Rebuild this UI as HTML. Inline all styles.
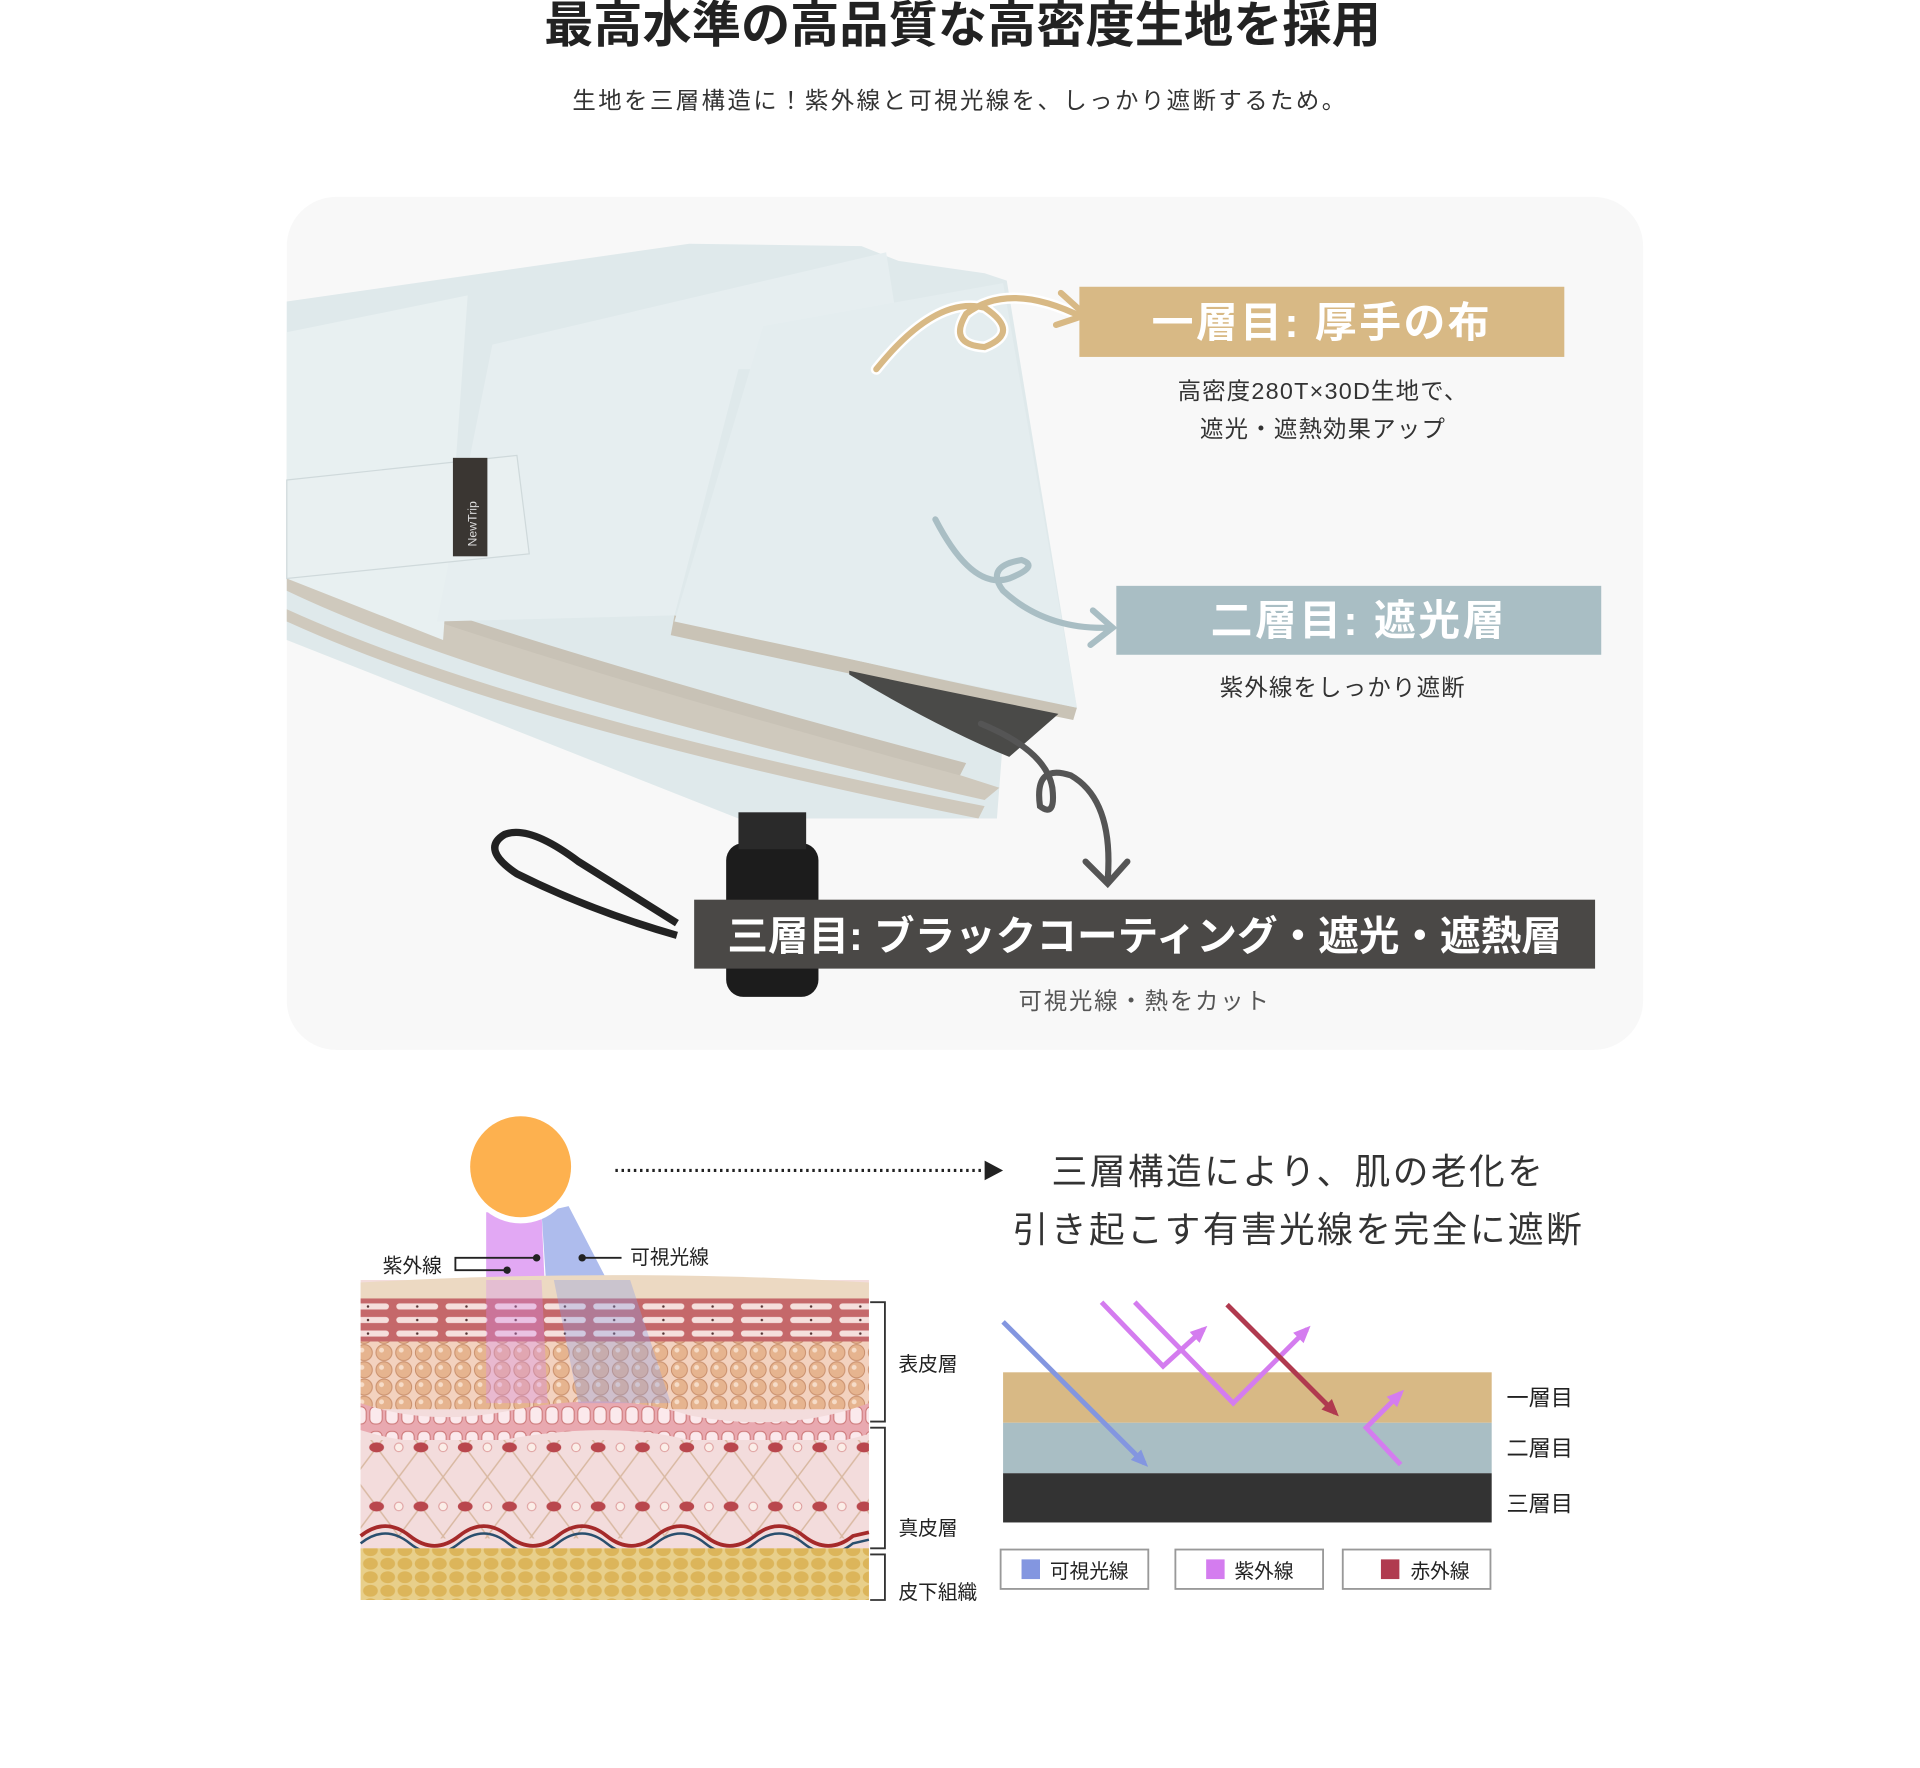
<!DOCTYPE html>
<html><head><meta charset="utf-8"><style>
html,body{margin:0;padding:0;background:#fff;}
svg{display:block;}
text{font-family:"Liberation Sans","Noto Sans CJK JP",sans-serif;}
</style></head><body>
<svg width="1920" height="1768" viewBox="0 0 1560 1436.5" preserveAspectRatio="none" xmlns="http://www.w3.org/2000/svg">
<defs>
<pattern id="beads" width="16" height="14" patternUnits="userSpaceOnUse">
<rect width="16" height="14" fill="#f3d2bf"/>
<circle cx="8" cy="7" r="6.5" fill="#e6b48f" stroke="#c98f6c" stroke-width="0.8"/>
<circle cx="6" cy="5" r="2" fill="#f6dcc8"/>
</pattern>
<pattern id="fat" width="14" height="11" patternUnits="userSpaceOnUse">
<rect width="14" height="11" fill="#e8cf8a"/>
<ellipse cx="7" cy="5.5" rx="6" ry="4.8" fill="#dcb55a"/>
</pattern>
<pattern id="derm" width="36" height="48" patternUnits="userSpaceOnUse">
<rect width="36" height="48" fill="#f3dcdc"/>
<path d="M0 0 L36 48 M36 0 L0 48" stroke="#d9b9a2" stroke-width="1.2"/>
<ellipse cx="18" cy="24" rx="6" ry="4" fill="#b9474d"/>
<circle cx="0" cy="24" r="3.5" fill="#fbeee8" stroke="#d99" stroke-width="0.8"/>
<circle cx="36" cy="24" r="3.5" fill="#fbeee8" stroke="#d99" stroke-width="0.8"/>
</pattern>
<pattern id="strat" width="40" height="11" patternUnits="userSpaceOnUse">
<rect width="40" height="11" fill="#c5686a"/>
<rect x="2" y="3" width="34" height="5" rx="2.5" fill="#f5dfdc"/>
<circle cx="19" cy="5.5" r="1" fill="#533"/>
</pattern>
<pattern id="cells" width="13" height="20" patternUnits="userSpaceOnUse">
<rect width="13" height="20" fill="#e9a9b0"/>
<rect x="1.5" y="3" width="10" height="14" rx="4" fill="#fbe9ec" stroke="#c77" stroke-width="0.8"/>
</pattern>
<marker id="ah" markerWidth="14" markerHeight="14" refX="10" refY="7" orient="auto" markerUnits="userSpaceOnUse"><path d="M0,1 L14,7 L0,13 Z" fill="context-stroke"/></marker>
</defs>

<!-- header -->
<text x="782" y="34" font-size="40" font-weight="bold" text-anchor="middle" fill="#222">最高水準の高品質な高密度生地を採用</text>
<text x="780" y="88" font-size="19" text-anchor="middle" fill="#333" letter-spacing="2">生地を三層構造に！紫外線と可視光線を、しっかり遮断するため。</text>

<!-- panel -->
<rect x="233" y="160" width="1102" height="693" rx="40" fill="#f8f8f8"/>

<!-- umbrella -->
<g>
<path d="M233 245 L560 198 L700 200 L730 212 L800 222 L818 228 L875 575 L815 600 L810 665 L600 665 L233 520 Z" fill="#dfe9eb"/>
<path d="M233 480 Q400 560 800 650 L812 640 Q500 540 233 470 Z" fill="#cfc9bd"/>
<path d="M233 505 Q420 590 795 665 L800 655 Q420 580 233 495 Z" fill="#cfc9bd"/>
<path d="M355 505 Q520 560 780 630 L785 620 Q520 550 355 495 Z" fill="#c8c2b6"/>
<path d="M548 500 Q700 540 875 575 L872 585 Q700 550 545 516 Z" fill="#c9c3b6"/>
<path d="M690 545 Q760 560 860 580 L820 615 Q760 590 690 548 Z" fill="#4a4a48"/>
<path d="M233 270 L380 240 L360 520 L233 470 Z" fill="#e8f0f1"/>
<path d="M400 280 L720 205 L735 300 L600 300 L548 500 L355 505 Z" fill="#e6eef0"/>
<path d="M620 265 L815 230 L875 575 L548 505 Z" fill="#e4edef"/>
<path d="M233 390 L420 370 L430 450 L233 470 Z" fill="#e9f0f1" stroke="#cfd9db"/>
<rect x="368" y="372" width="28" height="80" fill="#3a3632"/>
<text transform="translate(387,444) rotate(-90)" font-size="10" fill="#ddd">NewTrip</text>
<rect x="590" y="685" width="75" height="125" rx="14" fill="#1c1c1c"/>
<rect x="600" y="660" width="55" height="30" fill="#2a2a2a"/>
<path d="M550 760 Q480 740 420 710 Q390 690 410 678 Q430 670 470 700 L550 750" fill="none" stroke="#222" stroke-width="6"/>
</g>

<!-- curly arrows -->
<path d="M712 300 Q760 240 800 250 Q830 270 800 282 Q770 280 785 255 Q820 228 880 258" fill="none" stroke="#fff" stroke-width="9" stroke-linecap="round"/>
<path d="M712 300 Q760 240 800 250 Q830 270 800 282 Q770 280 785 255 Q820 228 880 258" fill="none" stroke="#d8b985" stroke-width="5" stroke-linecap="round"/>
<path d="M862 238 L882 256 L858 264" fill="none" stroke="#d8b985" stroke-width="5" stroke-linecap="round"/>
<path d="M760 422 Q790 480 820 470 Q845 460 830 455 Q800 460 815 480 Q850 512 902 510" fill="none" stroke="#a9bec4" stroke-width="5" stroke-linecap="round"/>
<path d="M888 496 L904 510 L886 524" fill="none" stroke="#a9bec4" stroke-width="5" stroke-linecap="round"/>
<path d="M797 588 Q850 610 855 640 Q858 665 845 655 Q840 620 870 630 Q905 650 900 715" fill="none" stroke="#555" stroke-width="5" stroke-linecap="round"/>
<path d="M882 700 L900 718 L916 700" fill="none" stroke="#555" stroke-width="5" stroke-linecap="round"/>

<!-- labels -->
<rect x="877" y="233" width="394" height="57" fill="#d8b985"/>
<text x="1074" y="274" font-size="34" font-weight="bold" text-anchor="middle" fill="#fff" letter-spacing="2">一層目: 厚手の布</text>
<text x="1075" y="324" font-size="19" text-anchor="middle" fill="#333" letter-spacing="1">高密度280T×30D生地で、</text>
<text x="1075" y="355" font-size="19" text-anchor="middle" fill="#333" letter-spacing="1">遮光・遮熱効果アップ</text>
<rect x="907" y="476" width="394" height="56" fill="#a9bec4"/>
<text x="1104" y="516" font-size="34" font-weight="bold" text-anchor="middle" fill="#fff" letter-spacing="2">二層目: 遮光層</text>
<text x="1091" y="565" font-size="19" text-anchor="middle" fill="#333" letter-spacing="1">紫外線をしっかり遮断</text>
<rect x="564" y="731" width="732" height="56" fill="#4a4846"/>
<text x="930" y="772" font-size="33" font-weight="bold" text-anchor="middle" fill="#fff">三層目: ブラックコーティング・遮光・遮熱層</text>
<text x="930" y="820" font-size="19" text-anchor="middle" fill="#555" letter-spacing="1.5">可視光線・熱をカット</text>

<!-- sun + beams -->
<polygon points="395,985 440,985 445,1100 395,1100" fill="#d88bf0" opacity="0.75"/>
<polygon points="440,985 462,980 545,1140 450,1140" fill="#8c9fe6" opacity="0.7"/>
<circle cx="423" cy="950" r="44" fill="#fff"/>
<circle cx="423" cy="948" r="41" fill="#fdb14f"/>
<line x1="500" y1="951" x2="798" y2="951" stroke="#222" stroke-width="2.5" stroke-dasharray="2,3"/>
<polygon points="800,943 815,951 800,959" fill="#222"/>
<text x="1055" y="962" font-size="29" text-anchor="middle" fill="#333" letter-spacing="2">三層構造により、肌の老化を</text>
<text x="1055" y="1009" font-size="29" text-anchor="middle" fill="#333" letter-spacing="2">引き起こす有害光線を完全に遮断</text>

<!-- skin -->
<rect x="293" y="1040" width="413" height="260" fill="#f3dcdc"/>
<path d="M293 1042 Q500 1030 706 1042 L706 1058 L293 1058 Z" fill="#ecd9c2"/>
<rect x="293" y="1055" width="413" height="35" fill="url(#strat)"/>
<rect x="293" y="1090" width="413" height="55" fill="url(#beads)"/>
<path d="M293 1140 Q350 1160 420 1145 Q500 1130 560 1150 Q640 1165 706 1140 L706 1165 Q640 1185 560 1170 Q500 1155 420 1168 Q350 1180 293 1162 Z" fill="url(#cells)"/>
<rect x="293" y="1170" width="413" height="80" fill="url(#derm)"/>
<path d="M293 1248 Q313 1232 333 1248 T373 1248 T413 1248 T453 1248 T493 1248 T533 1248 T573 1248 T613 1248 T653 1248 T693 1248 L706 1245" fill="none" stroke="#a52a2a" stroke-width="3"/>
<path d="M293 1254 Q313 1238 333 1254 T373 1254 T413 1254 T453 1254 T493 1254 T533 1254 T573 1254 T613 1254 T653 1254 T693 1254 L706 1251" fill="none" stroke="#2a4f6e" stroke-width="2"/>
<rect x="293" y="1258" width="413" height="42" fill="url(#fat)"/>
<polygon points="395,1040 440,1040 445,1140 395,1140" fill="#d88bf0" opacity="0.35"/>
<polygon points="450,1040 512,1040 545,1140 470,1140" fill="#8c9fe6" opacity="0.35"/>
<!-- pointers -->
<path d="M436 1022 L370 1022 L370 1032 L412 1032" fill="none" stroke="#222" stroke-width="1.5"/>
<circle cx="436" cy="1022" r="3" fill="#222"/><circle cx="412" cy="1032" r="3" fill="#222"/>
<line x1="473" y1="1022" x2="505" y2="1022" stroke="#222" stroke-width="1.5"/><circle cx="473" cy="1022" r="3" fill="#222"/>
<text x="311" y="1034" font-size="16" fill="#222">紫外線</text>
<text x="512" y="1027" font-size="16" fill="#222">可視光線</text>
<!-- brackets -->
<path d="M707 1058 L719 1058 L719 1155 L707 1155 M707 1160 L719 1160 L719 1258 L707 1258 M707 1263 L719 1263 L719 1300 L707 1300" fill="none" stroke="#333" stroke-width="1.5"/>
<text x="730" y="1114" font-size="16" fill="#222">表皮層</text>
<text x="730" y="1247" font-size="16" fill="#222">真皮層</text>
<text x="730" y="1299" font-size="16" fill="#222">皮下組織</text>

<!-- layers diagram -->
<rect x="815" y="1115" width="397" height="41" fill="#d8b985"/>
<rect x="815" y="1156" width="397" height="41" fill="#a9bec4"/>
<rect x="815" y="1197" width="397" height="40" fill="#333"/>
<text x="1224" y="1142" font-size="18" fill="#222">一層目</text>
<text x="1224" y="1183" font-size="18" fill="#222">二層目</text>
<text x="1224" y="1228" font-size="18" fill="#222">三層目</text>
<g fill="none" stroke-width="4">
<line x1="815" y1="1074" x2="930" y2="1189" stroke="#8396e0" marker-end="url(#ah)"/>
<polyline points="895,1058 945,1110 978,1080" stroke="#d47cef" marker-end="url(#ah)"/>
<polyline points="922,1058 1002,1140 1062,1080" stroke="#d47cef" marker-end="url(#ah)"/>
<line x1="997" y1="1060" x2="1085" y2="1148" stroke="#b03a4f" marker-end="url(#ah)"/>
<polyline points="1138,1190 1110,1160 1138,1132" stroke="#d47cef" marker-end="url(#ah)"/>
</g>
<!-- legend -->
<g stroke="#999" stroke-width="1.5" fill="#fff">
<rect x="813" y="1259" width="120" height="32"/>
<rect x="955" y="1259" width="120" height="32"/>
<rect x="1091" y="1259" width="120" height="32"/>
</g>
<rect x="830" y="1267" width="15" height="16" fill="#8396e0"/>
<rect x="980" y="1267" width="15" height="16" fill="#d47cef"/>
<rect x="1122" y="1267" width="15" height="16" fill="#b03a4f"/>
<text x="853" y="1282" font-size="16" fill="#222">可視光線</text>
<text x="1003" y="1282" font-size="16" fill="#222">紫外線</text>
<text x="1146" y="1282" font-size="16" fill="#222">赤外線</text>
</svg>
</body></html>
